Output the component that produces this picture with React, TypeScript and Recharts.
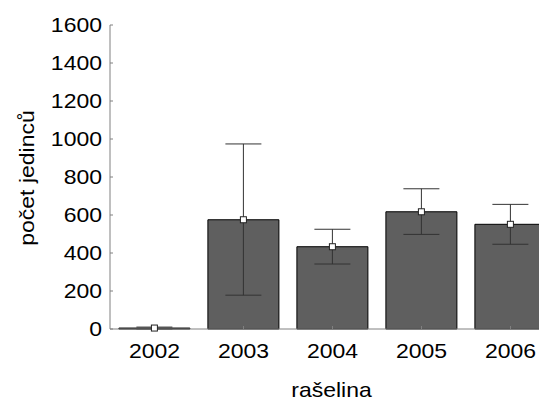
import React from 'react';
import { BarChart, Bar, XAxis, YAxis, ErrorBar, LabelList } from 'recharts';

const years = ['2002', '2003', '2004', '2005', '2006'];
const means = [5, 575, 433, 617, 551];
const errLow = [5, 397, 91, 119, 105];
const errHigh = [5, 399, 92, 121, 105];
const yTicks = [0, 200, 400, 600, 800, 1000, 1200, 1400, 1600];

const data = years.map((y, i) => ({ year: y, mean: means[i], err: [errLow[i], errHigh[i]] }));

const FONT = '"Liberation Sans", Arial, sans-serif';
const SX = 1.15;

const YTick = (props: any) => {
  const { x, y, payload } = props;
  return (
    <g>
      <line x1={x} x2={x + 3} y1={y} y2={y} stroke="#808080" />
      <g transform={`translate(${x - 8},${y + 7}) scale(${SX},1)`}>
        <text x={0} y={0} textAnchor="end" fontFamily={FONT} fontSize={20} fill="#000">
          {payload.value}
        </text>
      </g>
    </g>
  );
};

const XTick = (props: any) => {
  const { x, y, payload } = props;
  return (
    <g>
      <line x1={x} x2={x} y1={y} y2={y - 3} stroke="#808080" />
      <g transform={`translate(${x},${y + 29}) scale(${SX},1)`}>
        <text x={0} y={0} textAnchor="middle" fontFamily={FONT} fontSize={20} fill="#000">
          {payload.value}
        </text>
      </g>
    </g>
  );
};

const MeanMarker = (props: any) => {
  const { x, y, width } = props;
  const cx = x + width / 2;
  return <rect x={cx - 3} y={y - 3} width={6} height={6} fill="#fff" stroke="#222" strokeWidth={1} />;
};

const YLabel = (props: any) => {
  const vb = props.viewBox || { y: 25, height: 304 };
  const cy = vb.y + vb.height / 2 + 1;
  return (
    <g transform={`translate(34,${cy}) rotate(-90) scale(${SX},1)`}>
      <text x={0} y={0} textAnchor="middle" fontFamily={FONT} fontSize={20} fill="#000">
        počet jedinců
      </text>
    </g>
  );
};

const XLabel = (props: any) => {
  const vb = props.viewBox || { x: 110, width: 445 };
  const cx = vb.x + vb.width / 2 - 1;
  return (
    <g transform={`translate(${cx},397) scale(${SX},1)`}>
      <text x={0} y={0} textAnchor="middle" fontFamily={FONT} fontSize={20} fill="#000">
        rašelina
      </text>
    </g>
  );
};

export default function App() {
  return (
    <div style={{ position: 'absolute', left: 0, top: 0, width: 539, height: 404, overflow: 'hidden', background: '#fff' }}>
      <BarChart width={560} height={404} data={data} margin={{ top: 25, right: 5, left: 0, bottom: 0 }} barCategoryGap="10%">
        <XAxis
          dataKey="year"
          height={75}
          axisLine={{ stroke: '#808080' }}
          tickLine={false}
          tickSize={0}
          tickMargin={0}
          tick={<XTick />}
          label={<XLabel />}
        />
        <YAxis
          width={110}
          domain={[0, 1600]}
          ticks={yTicks}
          interval={0}
          axisLine={{ stroke: '#808080' }}
          tickLine={false}
          tickSize={0}
          tickMargin={0}
          tick={<YTick />}
          label={<YLabel />}
        />
        <Bar dataKey="mean" fill="#5f5f5f" stroke="#000" strokeWidth={1} isAnimationActive={false}>
          <ErrorBar dataKey="err" width={18} stroke="#333" strokeWidth={1} direction="y" />
          <LabelList dataKey="mean" content={<MeanMarker />} />
        </Bar>
      </BarChart>
    </div>
  );
}
